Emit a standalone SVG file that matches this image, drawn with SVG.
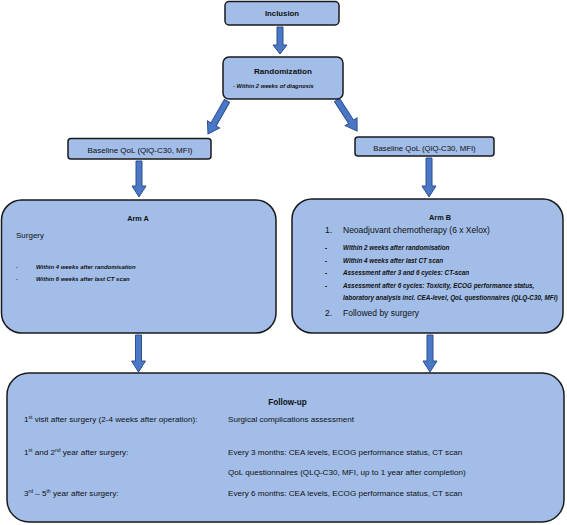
<svg xmlns="http://www.w3.org/2000/svg" width="567" height="525" viewBox="0 0 567 525">
<defs>
<style>
.box{fill:#a1bde8;stroke:#1a1a1a;stroke-width:1.5}
.arr{fill:#4a78c6;stroke:#2d4f8e;stroke-width:1}
text{font-family:"Liberation Sans",Arial,sans-serif;fill:#111}
.b{font-weight:bold}
.bi{font-weight:bold;font-style:italic}
.m{text-anchor:middle}
</style>
</defs>
<rect width="567" height="525" fill="#fff"/>
<g id="connectors">
<path class="arr" d="M277,27 H283 V45 H287 L280,54 L273,45 H277 Z"/>
<path class="arr" transform="translate(227,101) rotate(30)" d="M-3,0 H3 V27 H7 L0,38 L-7,27 H-3 Z"/>
<path class="arr" transform="translate(337,100) rotate(-33)" d="M-3,0 H3 V26 H7 L0,37 L-7,26 H-3 Z"/>
<path class="arr" d="M136,161 H142 V186 H146 L139,197 L132,186 H136 Z"/>
<path class="arr" d="M426,158 H432 V186 H436 L429,197 L422,186 H426 Z"/>
<path class="arr" d="M135.5,335 H141.5 V361 H145.5 L138.5,372 L131.5,361 H135.5 Z"/>
<path class="arr" d="M427,335 H433 V361 H437 L430,372 L423,361 H427 Z"/>
</g>
<g id="inclusion">
<rect class="box" x="225" y="1.5" width="114" height="23.5" rx="4"/>
<text class="b m" x="282" y="16" font-size="7.8">Inclusion</text>
</g>
<g id="randomization">
<rect class="box" x="223" y="57" width="120" height="42" rx="6"/>
<text class="b m" x="283" y="74" font-size="8.1">Randomization</text>
<text class="bi" x="233" y="87.5" font-size="5.8">- Within 2 weeks of diagnosis</text>
</g>
<g id="baseline-a">
<rect class="box" x="68" y="138.5" width="143" height="20.5" rx="3"/>
<text class="m" x="140" y="153" font-size="8">Baseline QoL (QlQ-C30, MFI)</text>
</g>
<g id="baseline-b">
<rect class="box" x="355" y="137" width="139" height="19" rx="3"/>
<text class="m" x="424.5" y="150.5" font-size="7.8">Baseline QoL (QlQ-C30, MFI)</text>
</g>
<g id="arm-a">
<rect class="box" x="1.5" y="200" width="274.5" height="133" rx="20"/>
<text class="b m" x="138" y="220.5" font-size="7.3">Arm A</text>
<text x="16" y="238" font-size="8">Surgery</text>
<text class="bi" x="16" y="269" font-size="5.9">-</text>
<text class="bi" x="36" y="269" font-size="5.95">Within 4 weeks after randomisation</text>
<text class="bi" x="16" y="281" font-size="5.9">-</text>
<text class="bi" x="36" y="281" font-size="5.95">Within 6 weeks after last CT scan</text>
</g>
<g id="arm-b">
<rect class="box" x="292" y="199" width="271" height="134" rx="20"/>
<text class="b m" x="440" y="219.5" font-size="7.3">Arm B</text>
<text x="325" y="233" font-size="8.5">1.</text>
<text x="343" y="233" font-size="8.5">Neoadjuvant chemotherapy (6 x Xelox)</text>
<text class="bi" x="325" y="250" font-size="6.3">-</text>
<text class="bi" x="343" y="250" font-size="6.35">Within 2 weeks after randomisation</text>
<text class="bi" x="325" y="263" font-size="6.3">-</text>
<text class="bi" x="343" y="263" font-size="6.35">Within 4 weeks after last CT scan</text>
<text class="bi" x="325" y="275" font-size="6.3">-</text>
<text class="bi" x="343" y="275" font-size="6.35">Assessment after 3 and 6 cycles: CT-scan</text>
<text class="bi" x="325" y="288" font-size="6.3">-</text>
<text class="bi" x="343" y="288" font-size="6.35">Assessment after 6 cycles: Toxicity, ECOG performance status,</text>
<text class="bi" x="343" y="300" font-size="6.35">laboratory analysis incl. CEA-level, QoL questionnaires (QLQ-C30, MFI)</text>
<text x="325" y="316" font-size="8.5">2.</text>
<text x="343" y="316" font-size="8.5">Followed by surgery</text>
</g>
<g id="follow-up">
<rect class="box" x="7" y="373" width="557" height="149" rx="22"/>
<text class="b m" x="287.5" y="405" font-size="8.2">Follow-up</text>
<text x="24" y="422" font-size="8.1">1<tspan font-size="5" dy="-3">st</tspan><tspan dy="3"> visit after surgery (2-4 weeks after operation):</tspan></text>
<text x="228" y="422" font-size="8.1">Surgical complications assessment</text>
<text x="24" y="455" font-size="8.1">1<tspan font-size="5" dy="-3">st</tspan><tspan dy="3"> and 2</tspan><tspan font-size="5" dy="-3">nd</tspan><tspan dy="3"> year after surgery:</tspan></text>
<text x="228" y="455" font-size="8.1">Every 3 months: CEA levels, ECOG performance status, CT scan</text>
<text x="228" y="475" font-size="8.1">QoL questionnaires (QLQ-C30, MFI, up to 1 year after completion)</text>
<text x="24" y="496" font-size="8.1">3<tspan font-size="5" dy="-3">rd</tspan><tspan dy="3"> – 5</tspan><tspan font-size="5" dy="-3">th</tspan><tspan dy="3"> year after surgery:</tspan></text>
<text x="228" y="496" font-size="8.1">Every 6 months: CEA levels, ECOG performance status, CT scan</text>
</g>
</svg>
